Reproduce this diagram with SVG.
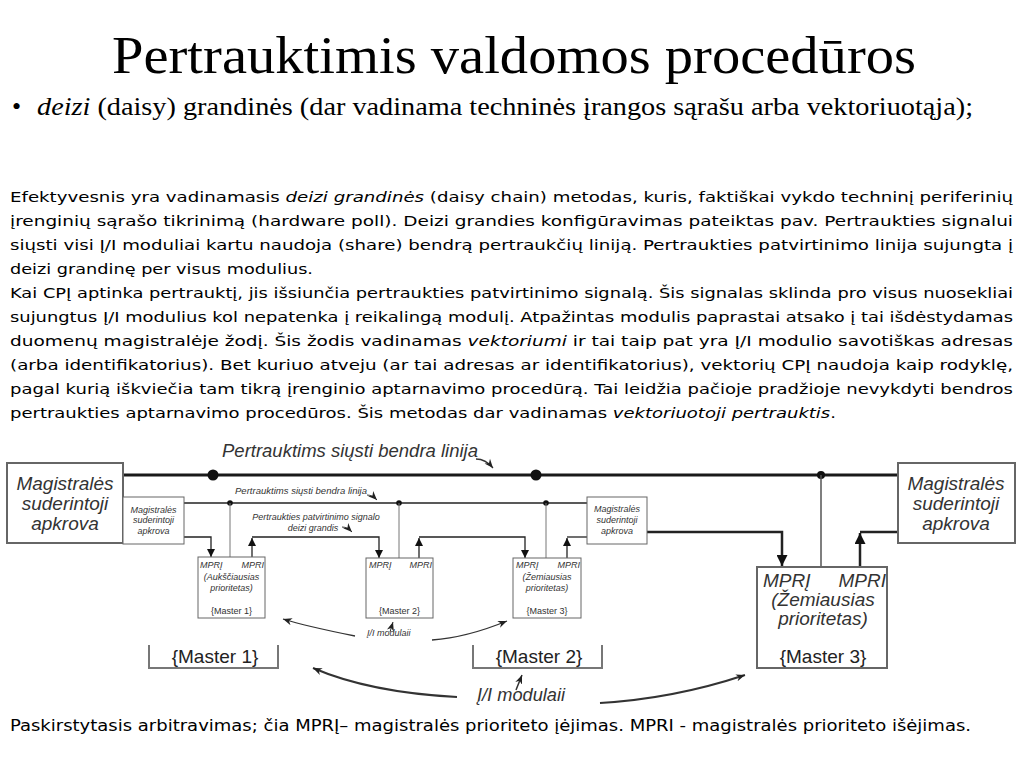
<svg xmlns="http://www.w3.org/2000/svg" width="1024" height="768" viewBox="0 0 1024 768">
<style>
.title{font-family:"Liberation Serif","Times New Roman",serif;font-size:52px;fill:#000}
.bul{font-family:"Liberation Serif","Times New Roman",serif;font-size:26px;fill:#000}
.body{font-family:"DejaVu Sans",Verdana,sans-serif;font-size:14.5px;fill:#000}
.cap{font-family:"DejaVu Sans Condensed","DejaVu Sans",sans-serif;font-stretch:condensed;font-size:16.5px;fill:#000}
.it{font-style:italic}
.bl{font-family:"Liberation Sans",Arial,sans-serif;font-style:italic;font-size:19px;fill:#333}
.bn{font-family:"Liberation Sans",Arial,sans-serif;font-size:19px;fill:#222}
.sl{font-family:"Liberation Sans",Arial,sans-serif;font-style:italic;font-size:9px;fill:#333}
.sn{font-family:"Liberation Sans",Arial,sans-serif;font-size:9px;fill:#333}
.bigbox{fill:#fff;stroke:#666;stroke-width:2}
.smbox{fill:#fff;stroke:#666;stroke-width:1}
.ubox{fill:none;stroke:#777;stroke-width:2}
.bus{fill:none;stroke:#1a1a1a;stroke-width:3}
.chain{fill:none;stroke:#222;stroke-width:2.5}
.thin{fill:none;stroke:#222;stroke-width:1.3}
.vert{fill:none;stroke:#777;stroke-width:1}
.curve{fill:none;stroke:#333;stroke-width:1.3}
.curveb{fill:none;stroke:#333;stroke-width:2}
</style>
<defs>
<marker id="ahs" viewBox="0 0 10 10" refX="10" refY="5" markerWidth="8" markerHeight="8" markerUnits="userSpaceOnUse" orient="auto"><path d="M0,0 L10,5 L0,10 z" fill="#111"/></marker>
<marker id="ahb" viewBox="0 0 10 10" refX="10" refY="5" markerWidth="11" markerHeight="11" markerUnits="userSpaceOnUse" orient="auto"><path d="M0,0 L10,5 L0,10 z" fill="#111"/></marker>
<marker id="ahc" viewBox="0 0 10 10" refX="10" refY="5" markerWidth="9" markerHeight="9" markerUnits="userSpaceOnUse" orient="auto"><path d="M0,1 L10,5 L0,9 L3,5 z" fill="#222"/></marker>
</defs>
<rect width="1024" height="768" fill="#fff"/>

<g id="title">
<text class="title" x="112" y="73" textLength="804" lengthAdjust="spacingAndGlyphs">Pertrauktimis valdomos procedūros</text>
</g>
<g id="bullet">
<text class="bul" x="12" y="115">•</text>
<text class="bul" x="37" y="115" textLength="936" lengthAdjust="spacingAndGlyphs"><tspan class="it">deizi</tspan> (daisy) grandinės (dar vadinama techninės įrangos sąrašu arba vektoriuotąja);</text>
</g>

<g id="body">
<text class="body" x="10" y="202" textLength="1003" lengthAdjust="spacingAndGlyphs">Efektyvesnis yra vadinamasis <tspan class="it">deizi grandinės</tspan> (daisy chain) metodas, kuris, faktiškai vykdo techninį periferinių</text>
<text class="body" x="10" y="226" textLength="1003" lengthAdjust="spacingAndGlyphs">įrenginių sąrašo tikrinimą (hardware poll). Deizi grandies konfigūravimas pateiktas pav. Pertraukties signalui</text>
<text class="body" x="10" y="250" textLength="1003" lengthAdjust="spacingAndGlyphs">siųsti visi Į/I moduliai kartu naudoja (share) bendrą pertraukčių liniją. Pertraukties patvirtinimo linija sujungta į</text>
<text class="body" x="10" y="274" textLength="303" lengthAdjust="spacingAndGlyphs">deizi grandinę per visus modulius.</text>
<text class="body" x="10" y="298" textLength="1003" lengthAdjust="spacingAndGlyphs">Kai CPĮ aptinka pertrauktį, jis išsiunčia pertraukties patvirtinimo signalą. Šis signalas sklinda pro visus nuosekliai</text>
<text class="body" x="10" y="322" textLength="1003" lengthAdjust="spacingAndGlyphs">sujungtus Į/I modulius kol nepatenka į reikalingą modulį. Atpažintas modulis paprastai atsako į tai išdėstydamas</text>
<text class="body" x="10" y="346" textLength="1003" lengthAdjust="spacingAndGlyphs">duomenų magistralėje žodį. Šis žodis vadinamas <tspan class="it">vektoriumi</tspan> ir tai taip pat yra Į/I modulio savotiškas adresas</text>
<text class="body" x="10" y="370" textLength="1003" lengthAdjust="spacingAndGlyphs">(arba identifikatorius). Bet kuriuo atveju (ar tai adresas ar identifikatorius), vektorių CPĮ naudoja kaip rodyklę,</text>
<text class="body" x="10" y="394" textLength="1003" lengthAdjust="spacingAndGlyphs">pagal kurią iškviečia tam tikrą įrenginio aptarnavimo procedūrą. Tai leidžia pačioje pradžioje nevykdyti bendros</text>
<text class="body" x="10" y="418" textLength="826" lengthAdjust="spacingAndGlyphs">pertraukties aptarnavimo procedūros. Šis metodas dar vadinamas  <tspan class="it">vektoriuotoji pertrauktis</tspan>.</text>
</g>

<g id="connectors">
<line class="bus" x1="123" y1="475" x2="898" y2="475"/>
<circle cx="213" cy="475" r="5.5" fill="#111"/>
<circle cx="536" cy="475" r="5.5" fill="#111"/>
<circle cx="821" cy="475" r="4" fill="#111"/>
<line class="thin" x1="821" y1="475" x2="821" y2="567" style="stroke:#555;stroke-width:1.5"/>
<path class="chain" d="M647,532 H782 V566" marker-end="url(#ahb)"/>
<path class="chain" d="M860,567 V533" marker-end="url(#ahb)"/>
<path class="chain" d="M860,532 H898"/>
<line class="thin" x1="184" y1="503" x2="587" y2="503"/>
<circle cx="230" cy="503" r="2.8" fill="#111"/>
<circle cx="399" cy="503" r="2.8" fill="#111"/>
<circle cx="546" cy="503" r="2.8" fill="#111"/>
<line class="vert" x1="230" y1="503" x2="230" y2="557"/>
<line class="vert" x1="399" y1="503" x2="399" y2="558"/>
<line class="vert" x1="546" y1="503" x2="546" y2="558"/>
<path class="thin" d="M184,537 H211 V557" marker-end="url(#ahs)"/>
<path class="thin" d="M252,557 V538" marker-end="url(#ahs)"/>
<path class="thin" d="M252,537 H379 V558" marker-end="url(#ahs)"/>
<path class="thin" d="M419,558 V538" marker-end="url(#ahs)"/>
<path class="thin" d="M419,537 H525 V558" marker-end="url(#ahs)"/>
<path class="thin" d="M567,558 V538" marker-end="url(#ahs)"/>
<path class="thin" d="M567,537 H587"/>
<path class="curve" d="M355,636 C330,631 302,625 283,619" marker-end="url(#ahc)"/>
<path class="curve" d="M432,640 C460,638 485,630 507,621" marker-end="url(#ahc)"/>
<path class="curveb" d="M457,697 C400,694 350,684 313,668" marker-end="url(#ahc)"/>
<path class="curveb" d="M600,703 C650,700 700,690 745,675" marker-end="url(#ahc)"/>
<path class="curve" d="M476,459 C483,459 488,462 493,468" marker-end="url(#ahc)"/>
<path class="curve" d="M367,495 C371,495 374,497 377,500" marker-end="url(#ahc)" style="stroke-width:1"/>
<path class="curve" d="M342,527 C346,527 349,529 352,532" marker-end="url(#ahc)" style="stroke-width:1"/>
<path class="curve" d="M390,632 L393,622" marker-end="url(#ahc)" style="stroke-width:1"/>
<path class="curve" d="M516,690 L522,675" marker-end="url(#ahc)" style="stroke-width:1.5"/>
</g>

<g id="labels">
<text class="bl" x="222" y="457" textLength="256" lengthAdjust="spacingAndGlyphs">Pertrauktims siųsti bendra linija</text>
<text class="sl" x="235" y="494" textLength="132" lengthAdjust="spacingAndGlyphs">Pertrauktims siųsti bendra linija</text>
<text class="sl" x="316" y="520" text-anchor="middle">Pertraukties patvirtinimo signalo</text>
<text class="sl" x="313" y="531" text-anchor="middle">deizi grandis</text>
<text class="sl" x="367" y="636">Į/I modulaii</text>
<text class="bl" x="477" y="701" textLength="88" lengthAdjust="spacingAndGlyphs">Į/I modulaii</text>
</g>

<g id="load-left-big">
<rect class="bigbox" x="7" y="463" width="116" height="80"/>
<text class="bl" x="65" y="490" text-anchor="middle">Magistralės</text>
<text class="bl" x="65" y="510" text-anchor="middle">suderintoji</text>
<text class="bl" x="65" y="530" text-anchor="middle">apkrova</text>
</g>
<g id="load-right-big">
<rect class="bigbox" x="898" y="463" width="117" height="80"/>
<text class="bl" x="956" y="490" text-anchor="middle">Magistralės</text>
<text class="bl" x="956" y="510" text-anchor="middle">suderintoji</text>
<text class="bl" x="956" y="530" text-anchor="middle">apkrova</text>
</g>
<g id="load-left-small">
<rect class="smbox" x="123" y="497" width="61" height="47"/>
<text class="sl" x="153.5" y="513" text-anchor="middle">Magistralės</text>
<text class="sl" x="153.5" y="523" text-anchor="middle">suderintoji</text>
<text class="sl" x="153.5" y="534" text-anchor="middle">apkrova</text>
</g>
<g id="load-right-small">
<rect class="smbox" x="587" y="497" width="60" height="47"/>
<text class="sl" x="617" y="512" text-anchor="middle">Magistralės</text>
<text class="sl" x="617" y="523" text-anchor="middle">suderintoji</text>
<text class="sl" x="617" y="534" text-anchor="middle">apkrova</text>
</g>

<g id="master1-small">
<rect class="smbox" x="198" y="557" width="67" height="61"/>
<text class="sl" x="200" y="568">MPRĮ</text>
<text class="sl" x="264" y="568" text-anchor="end">MPRI</text>
<text class="sl" x="231.5" y="580" text-anchor="middle">(Aukščiausias</text>
<text class="sl" x="231.5" y="591" text-anchor="middle">prioritetas)</text>
<text class="sn" x="231.5" y="614" text-anchor="middle">{Master 1}</text>
</g>
<g id="master2-small">
<rect class="smbox" x="366" y="558" width="67" height="60"/>
<text class="sl" x="369" y="568">MPRĮ</text>
<text class="sl" x="432" y="568" text-anchor="end">MPRI</text>
<text class="sn" x="399.5" y="614" text-anchor="middle">{Master 2}</text>
</g>
<g id="master3-small">
<rect class="smbox" x="513" y="558" width="68" height="60"/>
<text class="sl" x="516" y="568">MPRĮ</text>
<text class="sl" x="580" y="568" text-anchor="end">MPRI</text>
<text class="sl" x="547" y="580" text-anchor="middle">(Žemiausias</text>
<text class="sl" x="547" y="591" text-anchor="middle">prioritetas)</text>
<text class="sn" x="547" y="614" text-anchor="middle">{Master 3}</text>
</g>

<g id="master1-big">
<path class="ubox" d="M149,645 V668 H278 V645"/>
<text class="bn" x="215" y="663" text-anchor="middle">{Master 1}</text>
</g>
<g id="master2-big">
<path class="ubox" d="M473,645 V668 H602 V645"/>
<text class="bn" x="539" y="663" text-anchor="middle">{Master 2}</text>
</g>
<g id="master3-big">
<rect class="bigbox" x="757" y="567" width="130" height="101"/>
<text class="bl" x="763" y="587">MPRĮ</text>
<text class="bl" x="886" y="587" text-anchor="end">MPRI</text>
<text class="bl" x="823" y="606" text-anchor="middle">(Žemiausias</text>
<text class="bl" x="823" y="625" text-anchor="middle">prioritetas)</text>
<text class="bn" x="823" y="663" text-anchor="middle">{Master 3}</text>
</g>

<g id="caption">
<text class="cap" x="10" y="731" textLength="961" lengthAdjust="spacingAndGlyphs">Paskirstytasis arbitravimas; čia MPRĮ– magistralės prioriteto įėjimas. MPRI - magistralės prioriteto išėjimas.</text>
</g>
</svg>
